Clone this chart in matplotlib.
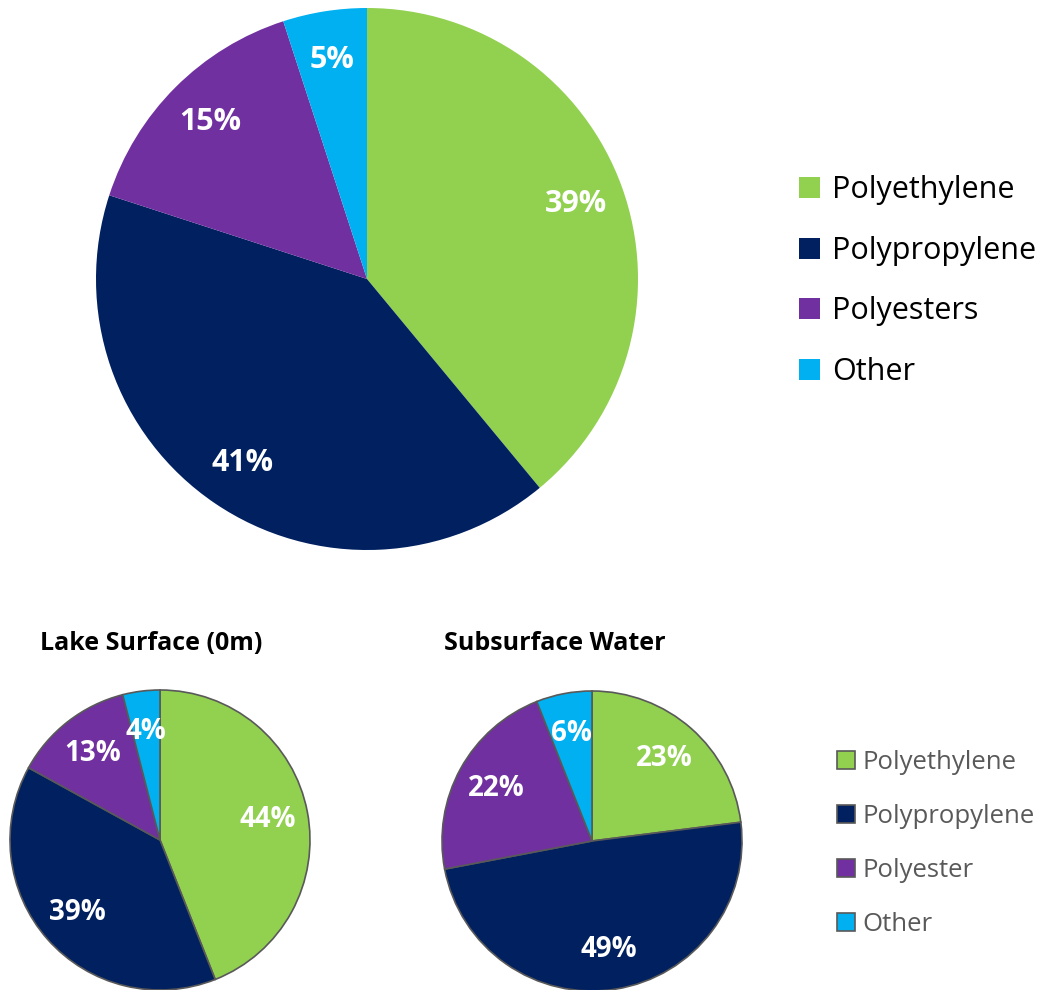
import matplotlib
matplotlib.use("Agg")
import matplotlib.pyplot as plt

plt.rcParams['font.family'] = ['Open Sans', 'DejaVu Sans']

# overall polymer composition
overall_labels = ["Polyethylene", "Polypropylene", "Polyesters", "Other"]
overall_pct = [39, 41, 15, 5]

# composition by sampling depth
depth_labels = ["Polyethylene", "Polypropylene", "Polyester", "Other"]
surface_pct = [44, 39, 13, 4]
subsurface_pct = [23, 49, 22, 6]
depth_titles = ["Lake Surface (0m)", "Subsurface Water"]

colors = ["#92D050", "#002060", "#7030A0", "#00B0F0"]

W, H = 1055, 990
fig = plt.figure(figsize=(W / 100, H / 100), dpi=100)


def box(cx, cy, r):
    # axes rectangle (figure fraction) for a pie centred at pixel cx, cy
    return [(cx - r) / W, (H - cy - r) / H, 2 * r / W, 2 * r / H]


# big pie
ax = fig.add_axes(box(367, 279, 271))
wedges, _, _ = ax.pie(overall_pct, colors=colors, startangle=90, counterclock=False,
                      radius=1, autopct=lambda p: f"{p:.0f}%", pctdistance=0.82,
                      textprops=dict(color="white", fontsize=22, fontweight="bold"))
ax.set_xlim(-1, 1)
ax.set_ylim(-1, 1)
ax.set_aspect("equal")
ax.axis("off")

fig.legend(wedges, overall_labels, loc="upper left",
           bbox_to_anchor=(784 / W, 1 - 160 / H), frameon=False,
           fontsize=22, handlelength=0.69, handleheight=0.69,
           handletextpad=0.38, labelspacing=1.0, borderpad=0)

# small pies by depth
small = []
for (cx, cy), vals in zip([(160, 840), (592, 841)], [surface_pct, subsurface_pct]):
    a = fig.add_axes(box(cx, cy, 150))
    ws, _, _ = a.pie(vals, colors=colors, startangle=90, counterclock=False,
                     radius=1, autopct=lambda p: f"{p:.0f}%", pctdistance=0.73,
                     wedgeprops=dict(edgecolor="#595959", linewidth=1.2),
                     textprops=dict(color="white", fontsize=20, fontweight="bold"))
    a.set_xlim(-1, 1)
    a.set_ylim(-1, 1)
    a.set_aspect("equal")
    a.axis("off")
    small.append(ws)

fig.text(151 / W, 1 - 643 / H, depth_titles[0], ha="center", va="center",
         fontsize=18, fontweight="bold")
fig.text(555 / W, 1 - 643 / H, depth_titles[1], ha="center", va="center",
         fontsize=18, fontweight="bold")

leg2 = fig.legend(small[0], depth_labels, loc="upper left",
                  bbox_to_anchor=(824 / W, 1 - 737 / H), frameon=False,
                  fontsize=18.5, handlelength=0.7, handleheight=0.7,
                  handletextpad=0.3, labelspacing=1.13, borderpad=0)
for t in leg2.get_texts():
    t.set_color("#595959")

fig.savefig("out.png", dpi=100)
